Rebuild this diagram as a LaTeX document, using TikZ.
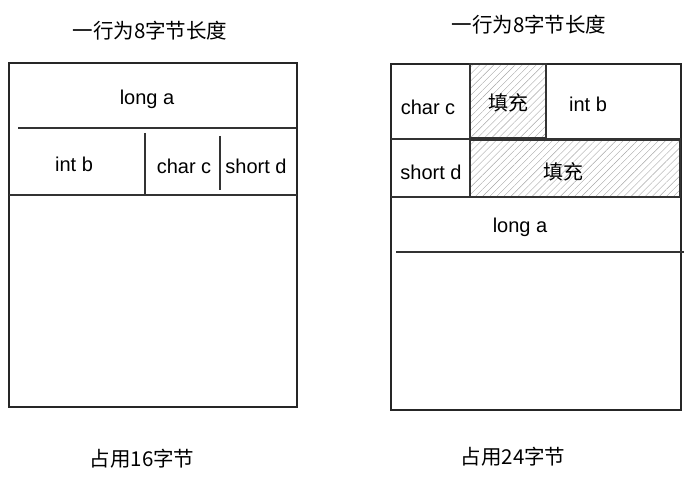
\documentclass[tikz,border=0pt]{standalone}
\usepackage{fontspec}
\setmainfont{Liberation Sans}
\newfontfamily\cjk{Noto Sans CJK SC}
\usetikzlibrary{patterns.meta}
\begin{document}
\begin{tikzpicture}[x=1pt,y=-1pt,
  frame/.style={draw=black!85,line width=1.1pt},
  sep/.style={draw=black!80,line width=1.1pt},
  fill/.style={pattern={Lines[angle=45,distance=5pt,line width=0.4pt]},pattern color=black!35},
  lbl/.style={font=\fontsize{20}{22}\selectfont,inner sep=0pt,anchor=center},
  zh/.style={font=\cjk\fontsize{20}{22}\selectfont,inner sep=0pt,anchor=center},
  ttl/.style={font=\cjk\fontsize{20.5}{22}\selectfont,inner sep=0pt,anchor=center}]
\useasboundingbox (0,0) rectangle (695,481);
% ---------- left ----------
\node[ttl] (lt) at (150,31) {一行为8字节长度};
\draw[frame] (9,63) rectangle (297,407);
\draw[sep] (18,128) -- (296,128);
\draw[sep] (9,195) -- (297,195);
\draw[sep] (145,133) -- (145,195);
\draw[sep] (220,136) -- (220,190);
\node[lbl] (la) at (147,99) {long a};
\node[lbl] (lb) at (74,164) {int b};
\node[lbl] (lc) at (184,166) {char c};
\node[lbl] (ld) at (256,166) {short d};
\node[ttl] (lbot) at (142,459) {占用16字节};
% ---------- right ----------
\node[ttl] (rt) at (529,25) {一行为8字节长度};
\draw[fill] (470,64) rectangle (546,138);
\draw[fill] (470,140) rectangle (680,197);
\draw[frame] (391,64) rectangle (681,410);
\draw[sep] (470,64) rectangle (546,138);
\draw[sep] (391,139) -- (681,139);
\draw[sep] (470,140) rectangle (680,197);
\draw[sep] (391,197) -- (470,197);
\draw[sep] (396,252) -- (684,252);
\node[lbl] (rc) at (428,107) {char c};
\node[zh] (rf1) at (508,103) {填充};
\node[lbl] (rb) at (588,104) {int b};
\node[lbl] (rd) at (431,172) {short d};
\node[zh] (rf2) at (563,172) {填充};
\node[lbl] (ra) at (520,227) {long a};
\node[ttl] (rbot) at (513,457) {占用24字节};
\end{tikzpicture}
\end{document}
